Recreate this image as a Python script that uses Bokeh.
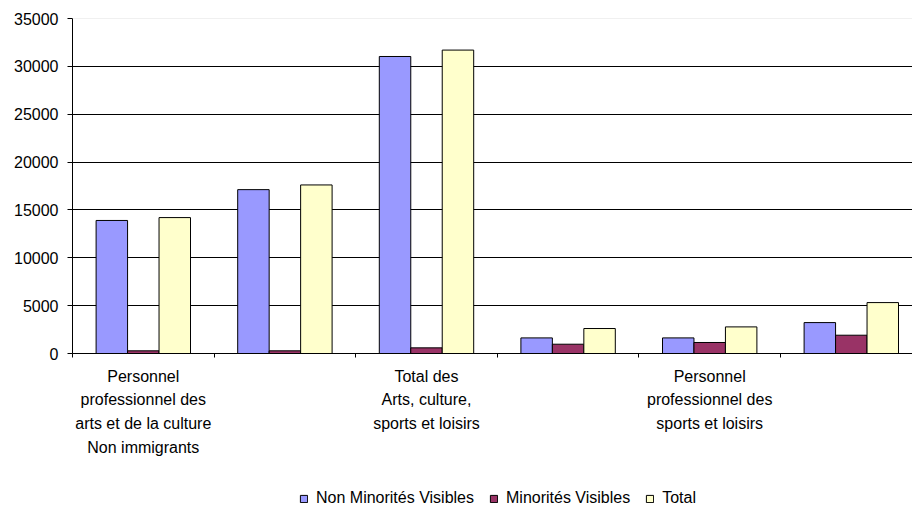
from bokeh.plotting import figure
from bokeh.layouts import column
from bokeh.models import (Range1d, FixedTicker, ColumnDataSource, Legend, LegendItem,
                          Span, NumeralTickFormatter, BoxAnnotation)
from bokeh.embed import file_html
from bokeh.resources import INLINE

# ---- data ----
categories = [
    "Personnel professionnel des arts et de la culture Non immigrants",
    "Personnel professionnel des sports et loisirs Non immigrants",
    "Total des Arts, culture, sports et loisirs Non immigrants",
    "Personnel professionnel des arts et de la culture Immigrants",
    "Personnel professionnel des sports et loisirs",
    "Total des Arts, culture, sports et loisirs",
]
non_minorites = [13900, 17120, 31030, 1630, 1630, 3230]
minorites = [280, 280, 590, 970, 1150, 1910]
total = [14200, 17610, 31700, 2610, 2780, 5320]
series_names = ["Non Minorités Visibles", "Minorités Visibles", "Total"]
series_values = [non_minorites, minorites, total]
colors = ["#9999FF", "#993366", "#FFFFCC"]

shown_label_index = [0, 2, 4]
shown_labels = [
    "Personnel\nprofessionnel des\narts et de la culture\nNon immigrants",
    "Total des\nArts, culture,\nsports et loisirs",
    "Personnel\nprofessionnel des\nsports et loisirs",
]
y_ticks = [0, 5000, 10000, 15000, 20000, 25000, 30000, 35000]

FONT = "Liberation Sans"
n = len(categories)
bar_w = 1 / 4.5
offsets = [-bar_w, 0.0, bar_w]

p = figure(width=912, height=480, output_backend="svg", toolbar_location=None,
           x_range=Range1d(0, 840 / 141.6), y_range=Range1d(0, 35000),
           min_border_left=72, min_border_right=0, min_border_top=18,
           min_border_bottom=127)
p.outline_line_color = None
p.background_fill_color = "white"
p.border_fill_color = "white"

sources = []
for name, vals, col, off in zip(series_names, series_values, colors, offsets):
    src = ColumnDataSource(dict(x=[i + 0.5 + off for i in range(n)], top=vals,
                                cat=categories))
    sources.append(src)
    p.vbar(x="x", top="top", width=bar_w, bottom=0, source=src,
           fill_color=col, line_color="black", line_width=1)

# x axis
xa = p.xaxis[0]
xa.ticker = FixedTicker(ticks=[i + 0.5 for i in shown_label_index],
                        minor_ticks=list(range(n + 1)))
xa.major_label_overrides = {i + 0.5: lab for i, lab in zip(shown_label_index, shown_labels)}
xa.major_tick_out = 0
xa.major_tick_in = 0
xa.minor_tick_out = 4
xa.minor_tick_in = 0
xa.minor_tick_line_color = "black"
xa.axis_line_color = "black"
xa.major_label_text_font = FONT
xa.major_label_text_font_size = "16px"
xa.major_label_text_color = "black"
xa.major_label_text_line_height = 1.41
xa.major_label_standoff = 10

# y axis
ya = p.yaxis[0]
ya.ticker = FixedTicker(ticks=y_ticks)
ya.formatter = NumeralTickFormatter(format="0")
ya.major_tick_out = 5
ya.major_tick_in = 0
ya.minor_tick_out = 0
ya.minor_tick_in = 0
ya.major_tick_line_color = "black"
ya.axis_line_color = "black"
ya.major_label_text_font = FONT
ya.major_label_text_font_size = "16px"
ya.major_label_text_color = "black"
ya.major_label_standoff = 9

p.xgrid.visible = False
p.ygrid.ticker = FixedTicker(ticks=y_ticks[:-1])
p.ygrid.grid_line_color = "black"
p.ygrid.grid_line_width = 1
p.add_layout(Span(location=y_ticks[-1], dimension="width", line_color="#E2E2E2",
                  line_width=1))

# legend strip: a small figure below the chart. Its bars are covered by a
# white box so that only the legend (drawn on top) shows.
pl = figure(width=912, height=26, output_backend="svg", toolbar_location=None,
            x_range=Range1d(0, 840 / 141.6), y_range=Range1d(0, 35000),
            x_axis_type=None, y_axis_type=None,
            min_border_left=0, min_border_right=0, min_border_top=0, min_border_bottom=0)
pl.outline_line_color = None
pl.grid.visible = False
pl.background_fill_color = "white"
pl.border_fill_color = "white"
swatches = []
for src, col in zip(sources, colors):
    swatches.append(pl.vbar(x="x", top="top", width=bar_w, bottom=0, source=src,
                            fill_color=col, line_color="black", line_width=1))

pl.add_layout(BoxAnnotation(fill_color="white", fill_alpha=1.0, line_color=None))

legend = Legend(items=[LegendItem(label=nm, renderers=[r]) for nm, r in zip(series_names, swatches)],
                location=(227, -1), orientation="horizontal",
                glyph_width=9, glyph_height=9, label_standoff=8, spacing=15,
                padding=0, margin=0, border_line_color=None, background_fill_alpha=0,
                label_text_font=FONT, label_text_font_size="16px",
                label_text_color="black", label_height=16)
pl.add_layout(legend)

layout = column(p, pl, spacing=0)
open("out.html", "w").write(file_html(layout, INLINE))
